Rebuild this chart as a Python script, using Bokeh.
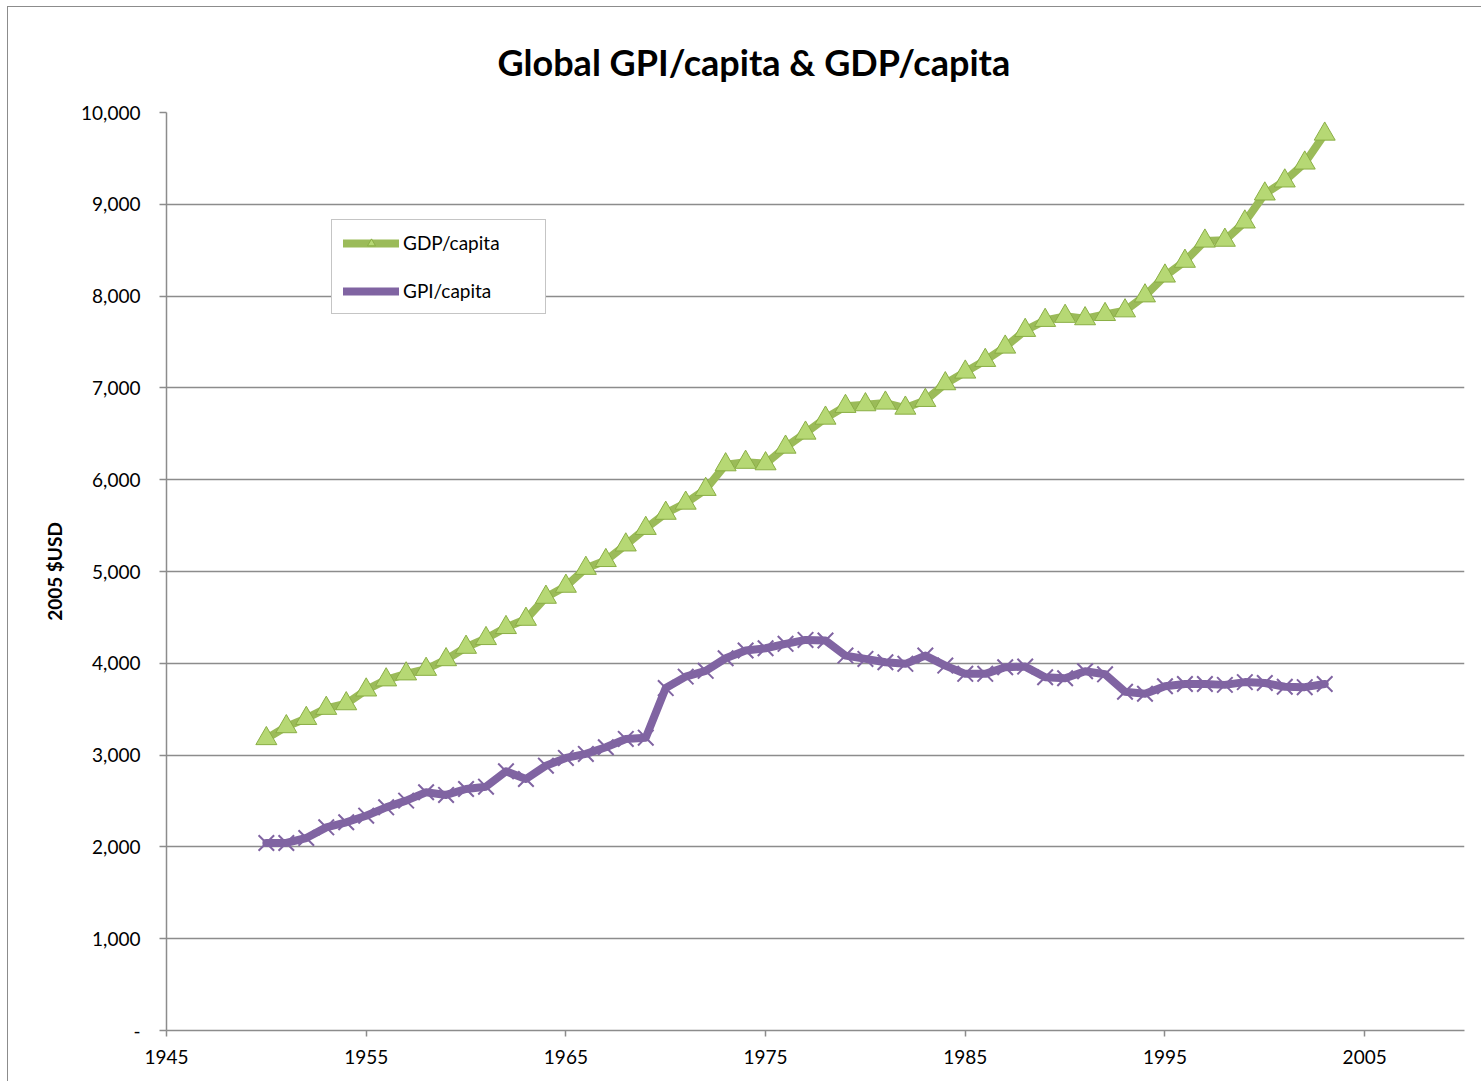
from bokeh.plotting import figure
from bokeh.models import (Range1d, FixedTicker, NumeralTickFormatter, Legend, LegendItem)
from bokeh.embed import file_html
from bokeh.resources import INLINE

# ---- data ----
years = list(range(1950, 2004))
gdp_per_capita = [
    3180, 3310, 3400, 3510, 3560, 3710, 3820, 3885, 3935, 4040,
    4175, 4270, 4390, 4480, 4720, 4840, 5035, 5120, 5290, 5470,
    5635, 5745, 5895, 6163, 6190, 6174, 6355, 6508, 6671, 6799,
    6817, 6835, 6780, 6864, 7046, 7173, 7300, 7445, 7627, 7736,
    7780, 7754, 7800, 7840, 8003, 8219, 8380, 8600, 8609, 8808,
    9113, 9255, 9450, 9765,
]
gpi_per_capita = [
    2043, 2043, 2097, 2213, 2268, 2340, 2431, 2504, 2595, 2566,
    2631, 2656, 2823, 2740, 2885, 2969, 3013, 3085, 3176, 3190,
    3730, 3855, 3918, 4055, 4139, 4164, 4212, 4255, 4248, 4084,
    4048, 4011, 3994, 4084, 3975, 3885, 3885, 3957, 3964, 3848,
    3837, 3913, 3880, 3690, 3668, 3750, 3775, 3775, 3765, 3795,
    3785, 3745, 3740, 3775,
]
x_ticks = [1945, 1955, 1965, 1975, 1985, 1995, 2005]
y_ticks = list(range(0, 10001, 1000))

FONT = "Lato"
GRID = "#8c8c8c"
GREEN = "#9bbb59"
PURPLE = "#8064a2"

p = figure(width=1474, height=1075, output_backend="svg", toolbar_location=None,
           x_range=Range1d(1945, 2010), y_range=Range1d(0, 10000),
           min_border_left=158, min_border_right=18, min_border_top=105,
           min_border_bottom=52)
p.outline_line_color = None
p.background_fill_color = "white"
p.border_fill_color = "white"

p.title.text = "Global GPI/capita & GDP/capita"
p.title.text_font = FONT
p.title.text_font_size = "36px"
p.title.text_font_style = "bold"
p.title.text_color = "black"
p.title.align = "left"
p.title.offset = 331
p.title.standoff = 57

# axes
xa = p.xaxis[0]
xa.ticker = FixedTicker(ticks=x_ticks)
xa.minor_tick_line_color = None
xa.major_tick_in = 0
xa.major_tick_out = 6
xa.major_tick_line_color = GRID
xa.major_tick_line_width = 1.5
xa.axis_line_color = GRID
xa.axis_line_width = 1.5
xa.major_label_text_font = FONT
xa.major_label_text_font_size = "19px"
xa.major_label_text_color = "black"
xa.major_label_standoff = 13

ya = p.yaxis[0]
ya.ticker = FixedTicker(ticks=y_ticks)
ya.formatter = NumeralTickFormatter(format="0,0")
ya.major_label_overrides = {0: "-"}
ya.minor_tick_line_color = None
ya.major_tick_in = 0
ya.major_tick_out = 7
ya.major_tick_line_color = GRID
ya.major_tick_line_width = 1.5
ya.axis_line_color = GRID
ya.axis_line_width = 1.5
ya.major_label_text_font = FONT
ya.major_label_text_font_size = "19px"
ya.major_label_text_color = "black"
ya.major_label_standoff = 19
ya.axis_label = "2005 $USD"
ya.axis_label_text_font = FONT
ya.axis_label_text_font_size = "19px"
ya.axis_label_text_font_style = "bold"
ya.axis_label_text_color = "black"
ya.axis_label_standoff = 12

p.xgrid.grid_line_color = None
p.ygrid.ticker = FixedTicker(ticks=y_ticks)
p.ygrid.grid_line_color = GRID
p.ygrid.grid_line_width = 1.5

# series
gdp_line = p.line(years, gdp_per_capita, line_color=GREEN, line_width=8,
                  line_join="round", line_cap="round")
gdp_marks = p.scatter(years, gdp_per_capita, marker="triangle", size=21,
                      fill_color="#b6d874", line_color="#8aae45", line_width=1)
gpi_line = p.line(years, gpi_per_capita, line_color=PURPLE, line_width=8,
                  line_join="round", line_cap="round")
gpi_marks = p.scatter(years, gpi_per_capita, marker="x", size=22,
                      line_color=PURPLE, line_width=2)

legend = Legend(items=[
    LegendItem(label="GDP/capita", renderers=[gdp_line, gdp_marks]),
    LegendItem(label="GPI/capita", renderers=[gpi_line, gpi_marks]),
], location=(165, 716))
legend.label_text_font = FONT
legend.label_text_font_size = "19px"
legend.label_text_color = "black"
legend.border_line_color = GRID
legend.border_line_width = 1.5
legend.background_fill_color = "white"
legend.background_fill_alpha = 1
legend.padding = 11
legend.margin = 0
legend.spacing = 25
legend.glyph_width = 56
legend.glyph_height = 20
legend.label_height = 20
legend.label_standoff = 4
legend.label_width = 131
p.add_layout(legend, "center")

p.styles = {"margin-left": "7px", "margin-top": "6px",
            "border-left": "1px solid #8c8c8c", "border-top": "1px solid #8c8c8c"}

open("out.html", "w").write(file_html(p, INLINE))
